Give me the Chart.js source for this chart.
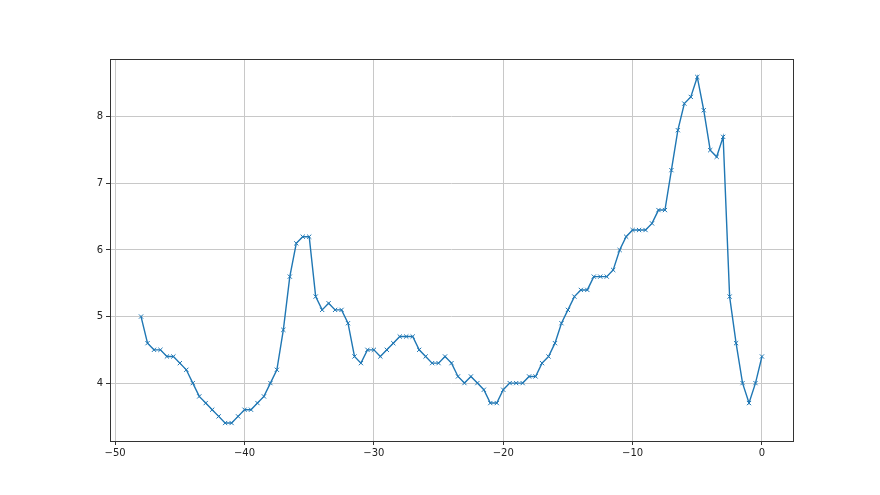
<!DOCTYPE html>
<html>
<head>
<meta charset="utf-8">
<script src="https://cdn.jsdelivr.net/npm/chart.js@4.4.0/dist/chart.umd.min.js"></script>
<style>
    html, body { margin: 0; padding: 0; background: #ffffff; }
    #wrap { width: 880px; height: 495px; }
</style>
</head>
<body>
<div id="wrap"><canvas id="lineChart" width="880" height="495"></canvas></div>
<script>
// x positions (step 0.5 from -48 to 0)
const xValues = [
    -48, -47.5, -47, -46.5, -46, -45.5, -45, -44.5, -44, -43.5,
    -43, -42.5, -42, -41.5, -41, -40.5, -40, -39.5, -39, -38.5,
    -38, -37.5, -37, -36.5, -36, -35.5, -35, -34.5, -34, -33.5,
    -33, -32.5, -32, -31.5, -31, -30.5, -30, -29.5, -29, -28.5,
    -28, -27.5, -27, -26.5, -26, -25.5, -25, -24.5, -24, -23.5,
    -23, -22.5, -22, -21.5, -21, -20.5, -20, -19.5, -19, -18.5,
    -18, -17.5, -17, -16.5, -16, -15.5, -15, -14.5, -14, -13.5,
    -13, -12.5, -12, -11.5, -11, -10.5, -10, -9.5, -9, -8.5,
    -8, -7.5, -7, -6.5, -6, -5.5, -5, -4.5, -4, -3.5,
    -3, -2.5, -2, -1.5, -1, -0.5, 0
];
const yValues = [
    5.0, 4.6, 4.5, 4.5, 4.4, 4.4, 4.3, 4.2, 4.0, 3.8,
    3.7, 3.6, 3.5, 3.4, 3.4, 3.5, 3.6, 3.6, 3.7, 3.8,
    4.0, 4.2, 4.8, 5.6, 6.1, 6.2, 6.2, 5.3, 5.1, 5.2,
    5.1, 5.1, 4.9, 4.4, 4.3, 4.5, 4.5, 4.4, 4.5, 4.6,
    4.7, 4.7, 4.7, 4.5, 4.4, 4.3, 4.3, 4.4, 4.3, 4.1,
    4.0, 4.1, 4.0, 3.9, 3.7, 3.7, 3.9, 4.0, 4.0, 4.0,
    4.1, 4.1, 4.3, 4.4, 4.6, 4.9, 5.1, 5.3, 5.4, 5.4,
    5.6, 5.6, 5.6, 5.7, 6.0, 6.2, 6.3, 6.3, 6.3, 6.4,
    6.6, 6.6, 7.2, 7.8, 8.2, 8.3, 8.6, 8.1, 7.5, 7.4,
    7.7, 5.3, 4.6, 4.0, 3.7, 4.0, 4.4
];
const xTicks = [-50, -40, -30, -20, -10, 0];
const yTicks = [4, 5, 6, 7, 8];

const lineColor = '#1f77b4';
const gridColor = '#c8c8c8';

// box around the plot area, like matplotlib spines
const frame = {
    id: 'frame',
    afterDraw(chart) {
        const a = chart.chartArea;
        const c = chart.ctx;
        c.save();
        c.strokeStyle = '#333333';
        c.lineWidth = 1;
        c.strokeRect(Math.round(a.left) + 0.5, Math.round(a.top) + 0.5,
            Math.round(a.right - a.left), Math.round(a.bottom - a.top));
        c.restore();
    }
};

const ctx = document.getElementById('lineChart').getContext('2d');
new Chart(ctx, {
    type: 'line',
    data: {
        datasets: [{
            data: xValues.map((x, i) => ({ x: x, y: yValues[i] })),
            borderColor: lineColor,
            backgroundColor: lineColor,
            borderWidth: 1.4,
            tension: 0,
            pointStyle: 'crossRot',
            pointRadius: 3,
            pointBorderWidth: 1,
            pointBorderColor: lineColor
        }]
    },
    options: {
        responsive: false,
        animation: false,
        layout: { padding: { left: 0, right: 87, top: 59, bottom: 0 } },
        plugins: {
            legend: { display: false },
            tooltip: { enabled: false }
        },
        scales: {
            x: {
                type: 'linear',
                min: -50.4,
                max: 2.4,
                afterBuildTicks: s => { s.ticks = xTicks.map(v => ({ value: v })); },
                afterFit: s => { s.height = 54; },
                grid: { color: gridColor, tickColor: '#333333', tickLength: 4, lineWidth: 1 },
                border: { display: false },
                ticks: {
                    color: '#222222',
                    padding: 2,
                    maxRotation: 0,
                    font: { family: 'DejaVu Sans', size: 10 },
                    callback: v => String(v).replace('-', '\u2212')
                }
            },
            y: {
                type: 'linear',
                min: 3.13,
                max: 8.87,
                afterBuildTicks: s => { s.ticks = yTicks.map(v => ({ value: v })); },
                afterFit: s => { s.width = 110; },
                grid: { color: gridColor, tickColor: '#333333', tickLength: 4, lineWidth: 1 },
                border: { display: false },
                ticks: {
                    color: '#222222',
                    padding: 3,
                    font: { family: 'DejaVu Sans', size: 10 }
                }
            }
        }
    },
    plugins: [frame]
});
</script>
</body>
</html>
